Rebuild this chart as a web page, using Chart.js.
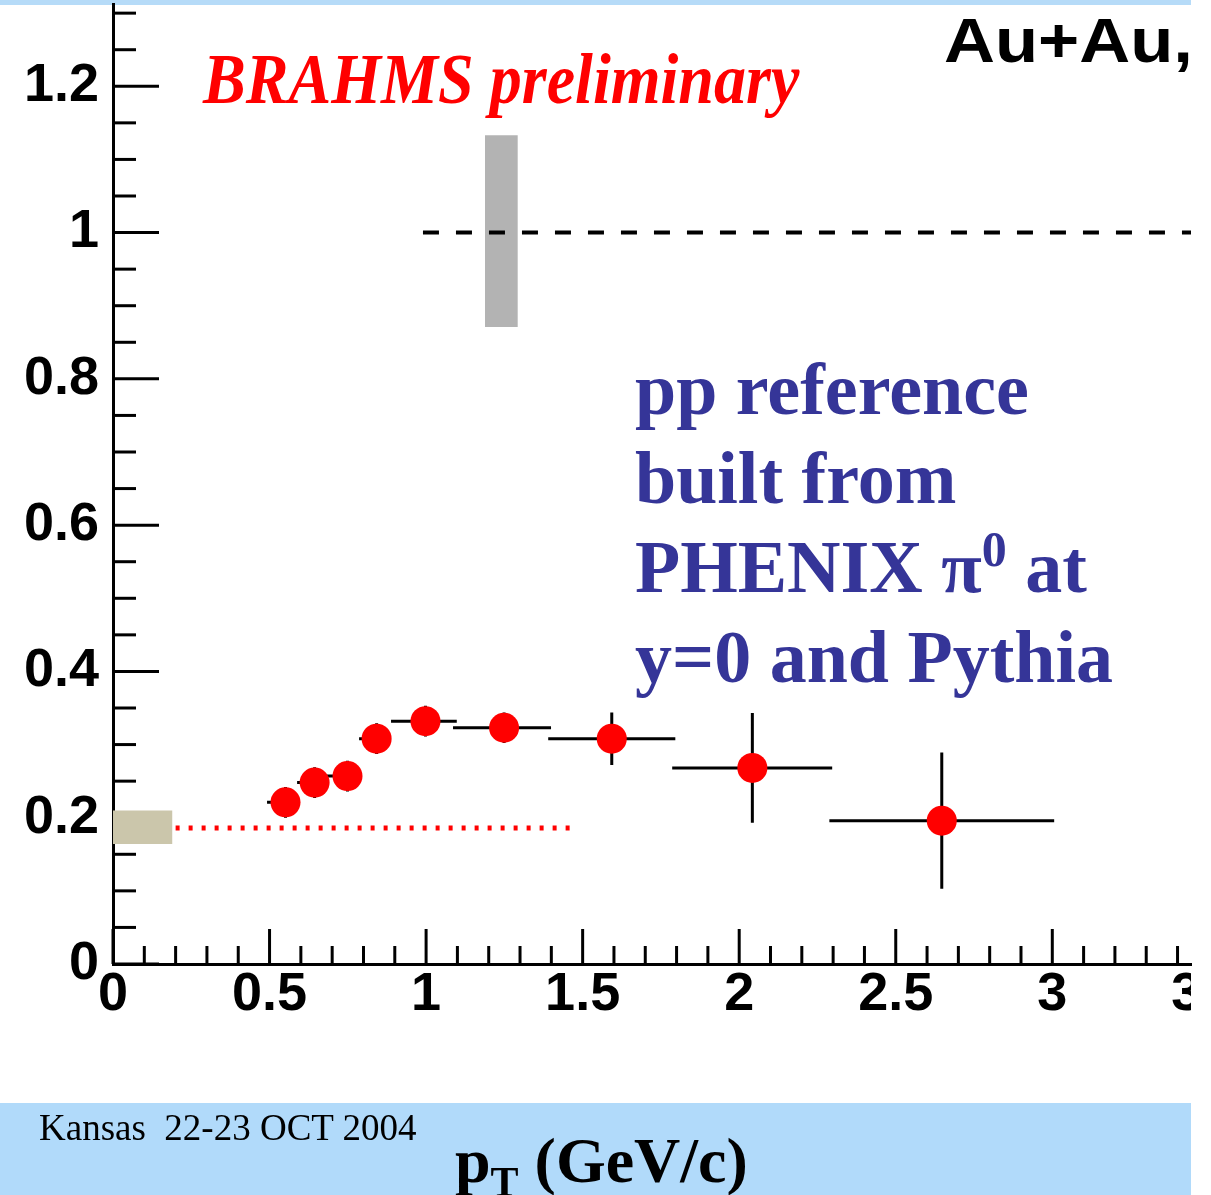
<!DOCTYPE html>
<html>
<head>
<meta charset="utf-8">
<script src="https://cdn.jsdelivr.net/npm/chart.js@4.4.1/dist/chart.umd.min.js"></script>
<style>
  html, body { margin: 0; padding: 0; background: #ffffff; }
  body { width: 1211px; height: 1195px; position: relative; overflow: hidden; }
  #topStrip { position: absolute; left: 0; top: 0; width: 1191px; height: 5px; background: #b6dbf8; }
  #bottomBar { position: absolute; left: 0; top: 1103px; width: 1191px; height: 92px; background: #b1dafa; }
  #chartCanvas { position: absolute; left: 0; top: -11px; }
  .txt { position: absolute; white-space: nowrap; line-height: 1; transform-origin: left top; }
  #brahms { left: 203px; top: 38px; font: italic bold 72px "Liberation Serif", serif; color: #ff0000; transform: scaleX(0.89); }
  #auau { left: 944px; top: 4px; font: bold 63px "Liberation Sans", sans-serif; color: #000; transform: scaleX(1.12); }
  .blue { left: 635px; font: bold 74px "Liberation Serif", serif; color: #353598; }
  .blue sup { font-size: 50px; vertical-align: 26px; line-height: 0; }
  #kansas { left: 39px; top: 1106px; font: 37px "Liberation Serif", serif; color: #000; }
  #xtitle { left: 455px; top: 1124px; font: bold 64px "Liberation Serif", serif; color: #000; }
  #xtitle sub { font-size: 42px; vertical-align: -14px; line-height: 0; }
</style>
</head>
<body>
<div id="topStrip"></div>
<div id="bottomBar"></div>
<canvas id="chartCanvas" width="1211" height="1206"></canvas>
<div class="txt" id="brahms">BRAHMS preliminary</div>
<div class="txt" id="auau">Au+Au,</div>
<div class="txt blue" style="top:347px">pp reference</div>
<div class="txt blue" style="top:436px">built from</div>
<div class="txt blue" style="top:525px">PHENIX &pi;<sup>0</sup> at</div>
<div class="txt blue" style="top:615px">y=0 and Pythia</div>
<div class="txt" id="kansas">Kansas&nbsp; 22-23 OCT 2004</div>
<div class="txt" id="xtitle">p<sub>T</sub> (GeV/c)</div>
<script>
// ---- data ----
const ptCenters = [0.551, 0.644, 0.749, 0.842, 0.998, 1.249, 1.593, 2.042, 2.647];
const raaValues = [0.221, 0.248, 0.257, 0.308, 0.332, 0.323, 0.308, 0.268, 0.196];
const ptLow     = [0.492, 0.588, 0.683, 0.786, 0.888, 1.086, 1.390, 1.786, 2.288];
const ptHigh    = [0.590, 0.688, 0.790, 0.885, 1.098, 1.399, 1.796, 2.297, 3.006];
const raaErr    = [0.021, 0.021, 0.021, 0.021, 0.021, 0.021, 0.036, 0.075, 0.093];

const unityLineX = [0.99, 3.443];
const unityLineY = 1.0;
const ppRefLineX = [0.2, 1.46];
const ppRefLineY = 0.186;
const normBoxX = [1.188, 1.293];
const normBoxY = [0.871, 1.133];
const ppBoxX = [0.0, 0.19];
const ppBoxY = [0.164, 0.21];

const xRange = [0, 3.443];
const yRange = [0, 1.3125];
const xTickLabels = ['0', '0.5', '1', '1.5', '2', '2.5', '3', '3.5'];
const yTickLabels = ['0', '0.2', '0.4', '0.6', '0.8', '1', '1.2'];
const xMinorStep = 0.1, xMajorStep = 0.5;
const yMinorStep = 0.05, yMajorStep = 0.2;

// ---- build datasets ----
const points = ptCenters.map((x, i) => ({ x: x, y: raaValues[i] }));
const errData = [];
ptCenters.forEach((x, i) => {
  const v = raaValues[i];
  errData.push({ x: ptLow[i], y: v }, { x: ptHigh[i], y: v }, { x: ptHigh[i], y: null });
  errData.push({ x: x, y: v - raaErr[i] }, { x: x, y: v + raaErr[i] }, { x: x, y: null });
});

function isMultiple(v, step) {
  const r = v / step;
  return Math.abs(r - Math.round(r)) < 1e-6;
}
function labelFor(v, step, list) {
  if (!isMultiple(v, step)) return '';
  const idx = Math.round(v / step);
  return list[idx] !== undefined ? list[idx] : '';
}

const tickFont = { family: 'Liberation Sans', weight: 'bold', size: 54, lineHeight: 1 };
const xLabelPadding = 4;

const innerTicks = {
  id: 'innerTicks',
  beforeDatasetsDraw(chart) {
    const { ctx, scales: { x, y }, chartArea } = chart;
    ctx.save();
    ctx.strokeStyle = '#000';
    ctx.lineWidth = 3;
    ctx.lineCap = 'butt';
    const base = chartArea.bottom;
    const left = chartArea.left;
    x.ticks.forEach(t => {
      const px = x.getPixelForValue(t.value);
      const len = isMultiple(t.value, xMajorStep) ? 35 : 18;
      ctx.beginPath(); ctx.moveTo(px, base); ctx.lineTo(px, base - len); ctx.stroke();
    });
    y.ticks.forEach(t => {
      const py = y.getPixelForValue(t.value);
      const len = isMultiple(t.value, yMajorStep) ? 46 : 23;
      ctx.beginPath(); ctx.moveTo(left, py); ctx.lineTo(left + len, py); ctx.stroke();
    });
    // label of the 3.5 tick, cut by the frame edge
    const lastIdx = xTickLabels.length - 1;
    const vLast = lastIdx * xMajorStep;
    if (vLast > xRange[1]) {
      ctx.beginPath();
      ctx.rect(0, 0, chartArea.right, chart.height);
      ctx.clip();
      ctx.fillStyle = '#000';
      ctx.font = 'bold 54px "Liberation Sans"';
      ctx.textAlign = 'center';
      ctx.textBaseline = 'middle';
      ctx.fillText(xTickLabels[lastIdx], x.getPixelForValue(vLast), base + xLabelPadding + 27);
    }
    ctx.restore();
  }
};

new Chart(document.getElementById('chartCanvas'), {
  type: 'scatter',
  data: {
    datasets: [
      {
        type: 'scatter', data: points, order: 0,
        pointRadius: 15, pointHoverRadius: 15, pointStyle: 'circle',
        backgroundColor: '#ff0000', borderWidth: 0
      },
      {
        type: 'line', data: errData, order: 1, spanGaps: false,
        borderColor: '#000', borderWidth: 3, pointRadius: 0, fill: false, tension: 0
      },
      {
        type: 'line', order: 2,
        data: [{ x: unityLineX[0], y: unityLineY }, { x: unityLineX[1], y: unityLineY }],
        borderColor: '#000', borderWidth: 4, borderDash: [16, 17], borderCapStyle: 'butt',
        pointRadius: 0, fill: false
      },
      {
        type: 'line', order: 2,
        data: [{ x: ppRefLineX[0], y: ppRefLineY }, { x: ppRefLineX[1], y: ppRefLineY }],
        borderColor: '#ff0000', borderWidth: 5, borderDash: [4, 9], borderCapStyle: 'butt',
        pointRadius: 0, fill: false
      },
      {
        type: 'line', order: 3,
        data: [{ x: normBoxX[0], y: normBoxY[1] }, { x: normBoxX[1], y: normBoxY[1] }],
        borderWidth: 0, borderColor: 'rgba(0,0,0,0)', pointRadius: 0,
        backgroundColor: '#b3b3b3', fill: { value: normBoxY[0] }
      },
      {
        type: 'line', order: 3,
        data: [{ x: ppBoxX[0], y: ppBoxY[1] }, { x: ppBoxX[1], y: ppBoxY[1] }],
        borderWidth: 0, borderColor: 'rgba(0,0,0,0)', pointRadius: 0,
        backgroundColor: '#cbc6ab', fill: { value: ppBoxY[0] }
      }
    ]
  },
  options: {
    responsive: false,
    animation: false,
    events: [],
    layout: { padding: { top: 5, right: 20, left: 0, bottom: 0 } },
    plugins: { legend: { display: false }, tooltip: { enabled: false }, title: { display: false } },
    scales: {
      x: {
        type: 'linear', min: xRange[0], max: xRange[1],
        afterFit: s => { s.height = 231; s.paddingLeft = 0; s.paddingRight = 0; s.paddingTop = 0; s.paddingBottom = 0; },
        grid: { display: false, drawTicks: false },
        border: { display: true, color: '#000', width: 3 },
        ticks: {
          stepSize: xMinorStep, autoSkip: false, maxRotation: 0, includeBounds: false,
          padding: xLabelPadding, color: '#000', font: tickFont,
          callback: v => labelFor(v, xMajorStep, xTickLabels)
        }
      },
      y: {
        type: 'linear', min: yRange[0], max: yRange[1],
        afterFit: s => { s.width = 113; s.paddingLeft = 0; s.paddingRight = 0; s.paddingTop = 0; s.paddingBottom = 0; },
        grid: { display: false, drawTicks: false },
        border: { display: true, color: '#000', width: 3 },
        ticks: {
          stepSize: yMinorStep, autoSkip: false, includeBounds: false,
          padding: 14, color: '#000', font: tickFont,
          callback: v => labelFor(v, yMajorStep, yTickLabels)
        }
      }
    }
  },
  plugins: [innerTicks]
});
</script>
</body>
</html>
